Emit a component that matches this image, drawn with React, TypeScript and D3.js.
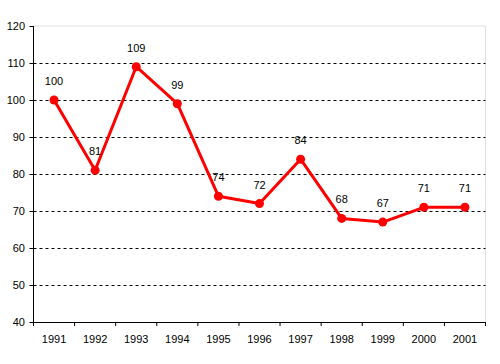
import React from "react";
import * as d3 from "d3";

const years = ["1991", "1992", "1993", "1994", "1995", "1996", "1997", "1998", "1999", "2000", "2001"];
const values = [100, 81, 109, 99, 74, 72, 84, 68, 67, 71, 71];
const yTicks = [40, 50, 60, 70, 80, 90, 100, 110, 120];

const W = 500;
const H = 364;
const margin = { top: 26, right: 15, bottom: 42, left: 33.5 };

export default function App() {
  const x = d3
    .scaleBand()
    .domain(years)
    .range([margin.left, W - margin.right + 0.5]);
  const y = d3
    .scaleLinear()
    .domain([40, 120])
    .range([H - margin.bottom, margin.top]);

  const line = d3
    .line<number>()
    .x((d, i) => x(years[i])! + x.bandwidth() / 2)
    .y((d) => y(d));

  const font = "Liberation Sans, Arial, sans-serif";
  const left = margin.left;
  const right = W - margin.right + 0.5;
  const bottom = y(40);

  return (
    <svg
      width={W}
      height={H}
      style={{ position: "absolute", left: 0, top: 0, background: "#fff" }}
      fontFamily={font}
    >
      {/* plot frame (light) */}
      <line x1={left} x2={right} y1={y(120)} y2={y(120)} stroke="#e0e0e0" />
      <line x1={right} x2={right} y1={y(120)} y2={bottom} stroke="#e0e0e0" />

      {/* gridlines */}
      {yTicks
        .filter((t) => t > 40 && t < 120)
        .map((t) => (
          <line
            key={t}
            x1={left}
            x2={right}
            y1={Math.round(y(t)) + 0.5}
            y2={Math.round(y(t)) + 0.5}
            stroke="#000"
            strokeDasharray="3,3"
          />
        ))}

      {/* y axis */}
      <line x1={left} x2={left} y1={y(120)} y2={bottom} stroke="#000" />
      {yTicks.map((t) => (
        <g key={t}>
          <line x1={left - 4} x2={left} y1={Math.round(y(t)) + 0.5} y2={Math.round(y(t)) + 0.5} stroke="#000" />
          <text x={25} y={y(t) + 4} textAnchor="end" fontSize={11} fill="#000">
            {t}
          </text>
        </g>
      ))}

      {/* x axis */}
      <line x1={left} x2={right} y1={Math.round(bottom) + 0.5} y2={Math.round(bottom) + 0.5} stroke="#000" />
      {years.map((yr, i) => (
        <g key={yr}>
          <line
            x1={x(yr)!}
            x2={x(yr)!}
            y1={bottom}
            y2={bottom + 4}
            stroke="#000"
          />
          {i === years.length - 1 && (
            <line x1={right} x2={right} y1={bottom} y2={bottom + 4} stroke="#000" />
          )}
          <text
            x={x(yr)! + x.bandwidth() / 2}
            y={bottom + 21}
            textAnchor="middle"
            fontSize={11}
            fill="#000"
          >
            {yr}
          </text>
        </g>
      ))}

      {/* series */}
      <path d={line(values)!} fill="none" stroke="#ff0000" strokeWidth={3} strokeLinejoin="round" />
      {values.map((v, i) => (
        <g key={i}>
          <circle
            cx={x(years[i])! + x.bandwidth() / 2}
            cy={y(v)}
            r={4.5}
            fill="#ff0000"
          />
          <text
            x={x(years[i])! + x.bandwidth() / 2}
            y={y(v) - 15}
            textAnchor="middle"
            fontSize={11}
            fill="#000"
          >
            {v}
          </text>
        </g>
      ))}
    </svg>
  );
}
